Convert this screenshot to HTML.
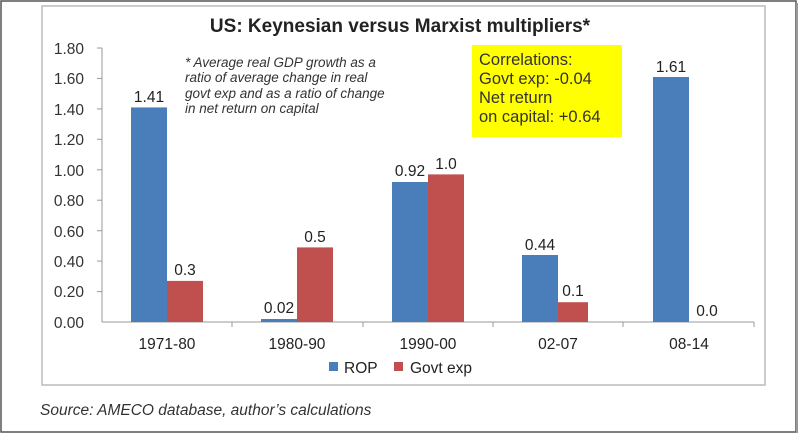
<!DOCTYPE html>
<html><head><meta charset="utf-8"><style>
body{margin:0;background:#fff;width:800px;height:435px;overflow:hidden}
</style></head><body>
<svg width="800" height="435" xmlns="http://www.w3.org/2000/svg" font-family="Liberation Sans, sans-serif">
<rect x="1" y="1" width="795" height="431" fill="#fff" stroke="#555" stroke-width="1.5"/>
<line x1="797" y1="3" x2="797" y2="433" stroke="#999" stroke-width="2"/>
<rect x="42" y="6" width="723" height="379" fill="#fff" stroke="#bbb" stroke-width="1.5"/>
<text x="400" y="32" text-anchor="middle" font-size="19" font-weight="bold" fill="#222">US: Keynesian versus Marxist multipliers*</text>
<g font-size="15.5" fill="#333" text-anchor="end">
<text x="84" y="54">1.80</text><text x="84" y="84">1.60</text><text x="84" y="115">1.40</text>
<text x="84" y="145">1.20</text><text x="84" y="176">1.00</text><text x="84" y="206">0.80</text>
<text x="84" y="237">0.60</text><text x="84" y="267">0.40</text><text x="84" y="297">0.20</text><text x="84" y="328">0.00</text>
</g>
<g stroke="#999" stroke-width="1">
<line x1="102" y1="48" x2="102" y2="322"/>
<line x1="97" y1="48" x2="102" y2="48"/><line x1="97" y1="78.4" x2="102" y2="78.4"/><line x1="97" y1="108.9" x2="102" y2="108.9"/>
<line x1="97" y1="139.3" x2="102" y2="139.3"/><line x1="97" y1="169.8" x2="102" y2="169.8"/><line x1="97" y1="200.2" x2="102" y2="200.2"/>
<line x1="97" y1="230.7" x2="102" y2="230.7"/><line x1="97" y1="261.1" x2="102" y2="261.1"/><line x1="97" y1="291.6" x2="102" y2="291.6"/>
<line x1="102" y1="322" x2="754" y2="322"/>
<line x1="232" y1="322" x2="232" y2="327"/><line x1="363" y1="322" x2="363" y2="327"/><line x1="493" y1="322" x2="493" y2="327"/><line x1="623" y1="322" x2="623" y2="327"/><line x1="754" y1="322" x2="754" y2="327"/>
</g>
<g fill="#4a7ebb">
<rect x="131" y="107.4" width="36" height="214.6"/>
<rect x="261" y="319" width="36" height="3"/>
<rect x="392" y="182" width="36" height="140"/>
<rect x="522" y="255" width="36" height="67"/>
<rect x="653" y="77" width="36" height="245"/>
</g>
<g fill="#c0504d">
<rect x="167" y="280.9" width="36" height="41.1"/>
<rect x="297" y="247.4" width="36" height="74.6"/>
<rect x="428" y="174.4" width="36" height="147.6"/>
<rect x="558" y="302.2" width="30" height="19.8"/>
</g>
<g font-size="15.5" fill="#222" text-anchor="middle">
<text x="149" y="102">1.41</text><text x="185" y="275">0.3</text>
<text x="279" y="313">0.02</text><text x="315" y="242">0.5</text>
<text x="410" y="176">0.92</text><text x="446" y="169">1.0</text>
<text x="540" y="250">0.44</text><text x="573" y="296">0.1</text>
<text x="671" y="72">1.61</text><text x="707" y="316">0.0</text>
</g>
<g font-size="15.5" fill="#222" text-anchor="middle">
<text x="167" y="349">1971-80</text><text x="297" y="349">1980-90</text><text x="428" y="349">1990-00</text>
<text x="558" y="349">02-07</text><text x="689" y="349">08-14</text>
</g>
<rect x="329" y="362" width="9" height="9" fill="#4a7ebb"/>
<text x="344" y="373" font-size="15.5" fill="#222">ROP</text>
<rect x="394" y="362" width="9" height="9" fill="#c0504d"/>
<text x="410" y="373" font-size="15.5" fill="#222">Govt exp</text>
<g font-size="13.5" font-style="italic" fill="#333">
<text x="185" y="67">* Average real GDP growth as a</text>
<text x="185" y="82">ratio of average change in real</text>
<text x="185" y="98">govt exp and as a ratio of change</text>
<text x="185" y="113">in net return on capital</text>
</g>
<rect x="472" y="45" width="150" height="92" fill="#ffff00"/>
<g font-size="16.5" fill="#333">
<text x="479" y="65">Correlations:</text>
<text x="479" y="84">Govt exp: -0.04</text>
<text x="479" y="103">Net return</text>
<text x="479" y="122">on capital: +0.64</text>
</g>
<text x="40" y="415" font-size="15.5" font-style="italic" fill="#333">Source: AMECO database, author’s calculations</text>
</svg>
</body></html>
